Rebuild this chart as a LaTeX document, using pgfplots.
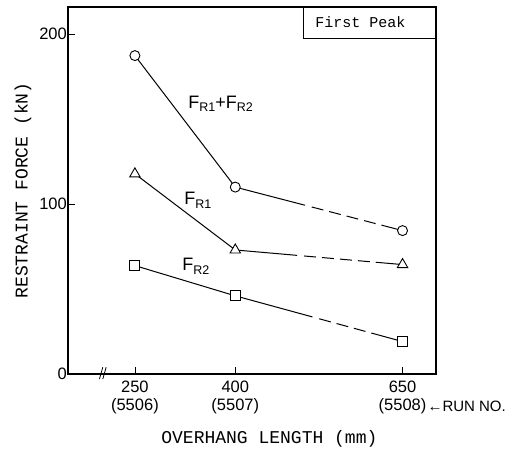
\documentclass[border=0pt]{standalone}
\usepackage{pgfplots}
\pgfplotsset{compat=1.18}
\usepackage{fontspec}
\setmainfont{Liberation Sans}
\newfontfamily\monofont{Liberation Mono}
\newcommand{\sub}[1]{\raisebox{-0.4ex}{\fontsize{12.5}{12.5}\selectfont #1}}
\begin{document}
\begin{tikzpicture}
\begin{axis}[
  scale only axis, width=368pt, height=367pt,
  xmin=150, xmax=700, ymin=0, ymax=216,
  axis line style={line width=1.1pt},
  xtick={250,400,650},
  xticklabels={250\\(5506), 400\\(5507), 650\\(5508)},
  xticklabel style={align=center, font=\fontsize{16.5}{18}\selectfont, yshift=-3pt},
  ytick={0,100,200},
  yticklabel style={font=\fontsize{16.5}{18}\selectfont, inner sep=1pt},
  tick align=inside, xtick pos=bottom, ytick pos=left,
  major tick length=7pt, tick style={line width=0.8pt, black},
  /pgf/number format/assume math mode=true,
  clip=false,
]
% solid segments
\addplot[black, line width=1pt] coordinates {(250,187.4) (400,110)};
\addplot[black, line width=1pt] coordinates {(250,117.8) (400,73)};
\addplot[black, line width=1pt] coordinates {(250,63.8) (400,46)};
% dashed continuations
\addplot[black, line width=1pt, dash pattern=on 72pt off 7pt on 12pt off 6pt on 12pt off 6pt on 12pt off 6pt on 12pt off 6pt on 60pt] coordinates {(400,110) (650,84.4)};
\addplot[black, line width=1pt, dash pattern=on 62pt off 7pt on 12pt off 6pt on 12pt off 6pt on 12pt off 6pt on 12pt off 6pt on 60pt] coordinates {(400,73) (650,64.4)};
\addplot[black, line width=1pt, dash pattern=on 80pt off 7pt on 12pt off 6pt on 12pt off 6pt on 12pt off 6pt on 60pt] coordinates {(400,46) (650,19.1)};
% markers
\addplot[only marks, mark=*, mark size=5pt, mark options={draw=black, fill=white, line width=0.9pt}] coordinates {(250,187.4) (400,110) (650,84.4)};
\addplot[only marks, mark=triangle*, mark size=6pt, mark options={draw=black, fill=white, line width=0.9pt}] coordinates {(250,117.8) (400,73) (650,64.4)};
\addplot[only marks, mark=square*, mark size=5pt, mark options={draw=black, fill=white, line width=0.9pt}] coordinates {(250,63.8) (400,46) (650,19.1)};
% curve labels
\node[font=\fontsize{18}{18}\selectfont] at (axis cs:378,159) {F\sub{R1}+F\sub{R2}};
\node[font=\fontsize{18}{18}\selectfont] at (axis cs:344,102) {F\sub{R1}};
\node[font=\fontsize{18}{18}\selectfont] at (axis cs:341,63.5) {F\sub{R2}};
% first peak box
\draw[line width=0.9pt] (axis cs:502,216) |- (axis cs:700,197.6);
\node[font=\monofont\fontsize{15}{15}\selectfont] at (axis cs:587,207) {First Peak};
% axis break mark
\draw[line width=0.8pt] (axis cs:197,-3) -- (axis cs:202,4);
\draw[line width=0.8pt] (axis cs:202,-3) -- (axis cs:207,4);
% axis labels
\node[rotate=90, font=\monofont\fontsize{18}{18}\selectfont] at (rel axis cs:-0.1223,0.5) {RESTRAINT FORCE (kN)};
\node[font=\monofont\fontsize{18}{18}\selectfont] at (axis cs:451,-38.2) {OVERHANG LENGTH (mm)};
\node[anchor=west, inner sep=0pt, font=\fontsize{15}{15}\selectfont] at (axis cs:687,-18.8) {←RUN NO.};
\coordinate (bl) at (rel axis cs:0,0);
\coordinate (tr) at (rel axis cs:1,1);
\end{axis}
\pgfresetboundingbox
\path ([shift={(-68pt,-79pt)}]bl) rectangle ([shift={(83pt,7pt)}]tr);
\end{tikzpicture}
\end{document}
